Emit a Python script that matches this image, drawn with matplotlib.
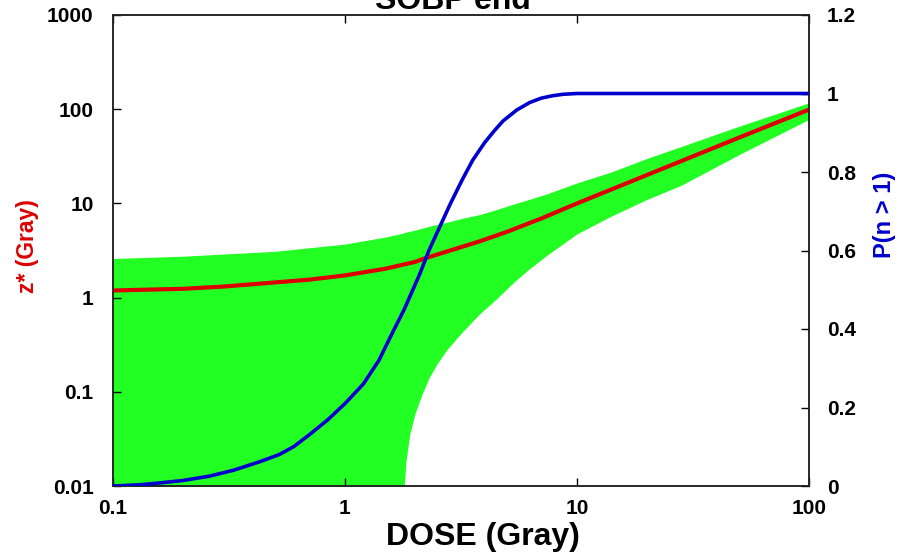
import numpy as np
import matplotlib.pyplot as plt
from matplotlib.ticker import FixedLocator, NullLocator, FixedFormatter

# z* band (spread of the specific energy)
band_dose = [0.1, 0.2, 0.5, 1.0, 1.5, 1.79, 1.8, 1.83, 1.9, 2.0, 2.15, 2.3, 2.5, 2.75, 3.2, 3.8,
             4.5, 5.3, 6.2, 7.4, 10, 14, 20, 28, 50, 100]
band_hi = [2.6, 2.75, 3.1, 3.7, 4.4, 4.85, 4.9, 4.95, 5.05, 5.2, 5.45, 5.7, 6.0, 6.3, 6.95, 7.6,
           8.6, 9.8, 11.0, 12.6, 16.5, 21.5, 30, 40, 66, 117]
band_lo = [0, 0, 0, 0, 0, 0, 0.01, 0.018, 0.035, 0.058, 0.095, 0.14, 0.2, 0.28, 0.43, 0.67,
           0.97, 1.43, 2.0, 2.8, 4.75, 7.3, 11, 15.5, 33, 78]

# mean z* (red)
z_dose = [0.1, 0.2, 0.3, 0.5, 0.7, 1.0, 1.5, 2.0, 2.2, 3.0, 3.8, 5.0, 7.0, 10, 14, 20, 50, 100]
z_mean = [1.19, 1.24, 1.31, 1.45, 1.55, 1.72, 2.03, 2.39, 2.6, 3.3, 3.95, 5.0, 6.9, 10, 14, 20, 50, 99]

# P(n > 1) (blue, right axis)
p_dose = [0.1, 0.13, 0.16, 0.2, 0.26, 0.33, 0.43, 0.52, 0.6, 0.7, 0.84, 1.0, 1.2, 1.4, 1.6,
          1.8, 2.1, 2.3, 2.56, 2.85, 3.2, 3.55, 4.0, 4.4, 4.8, 5.5, 6.25, 7.0, 7.8, 8.7, 10, 100]
p_val = [0.0, 0.003, 0.008, 0.014, 0.025, 0.04, 0.062, 0.08, 0.10, 0.13, 0.168, 0.21, 0.26, 0.32,
         0.39, 0.45, 0.54, 0.60, 0.66, 0.72, 0.78, 0.83, 0.875, 0.905, 0.93, 0.958, 0.977, 0.988,
         0.994, 0.998, 1.0, 1.0]

xticks = [0.1, 1, 10, 100]
xticklabels = ["0.1", "1", "10", "100"]
yticks = [0.01, 0.1, 1, 10, 100, 1000]
yticklabels = ["0.01", "0.1", "1", "10", "100", "1000"]
pticks = [0, 0.2, 0.4, 0.6, 0.8, 1.0, 1.2]
pticklabels = ["0", "0.2", "0.4", "0.6", "0.8", "1", "1.2"]

plt.rcParams['font.family'] = ['Liberation Sans', 'DejaVu Sans']
plt.rcParams['font.weight'] = 'bold'

fig = plt.figure(figsize=(9.04, 5.53), dpi=100)
ax = fig.add_axes([113 / 904, 1 - 486 / 553, (809 - 113) / 904, (486 - 15) / 553])

lo = np.clip(np.array(band_lo, dtype=float), 1e-3, None)
ax.fill_between(band_dose, lo, band_hi, color='#22ff22', linewidth=0, zorder=1)
ax.plot(z_dose, z_mean, color='#dd0000', linewidth=3.0, zorder=3)

ax.set_xscale('log')
ax.set_yscale('log')
ax.set_xlim(0.1, 100)
ax.set_ylim(0.01, 1000)
ax.xaxis.set_major_locator(FixedLocator(xticks))
ax.xaxis.set_major_formatter(FixedFormatter(xticklabels))
ax.xaxis.set_minor_locator(NullLocator())
ax.yaxis.set_major_locator(FixedLocator(yticks))
ax.yaxis.set_major_formatter(FixedFormatter(yticklabels))
ax.yaxis.set_minor_locator(NullLocator())
ax.tick_params(axis='x', direction='in', length=6, width=1, top=True, labelsize=15, pad=9)
ax.tick_params(axis='y', direction='in', length=6, width=1, right=False, labelsize=15, pad=14)

ax2 = ax.twinx()
ax2.plot(p_dose, p_val, color='#0000cc', linewidth=2.6, zorder=4)
ax2.set_ylim(0, 1.2)
ax2.yaxis.set_major_locator(FixedLocator(pticks))
ax2.yaxis.set_major_formatter(FixedFormatter(pticklabels))
ax2.tick_params(axis='y', direction='in', length=6, width=1, labelsize=15, pad=13)

for a in (ax, ax2):
    for s in a.spines.values():
        s.set_linewidth(1.1)
        s.set_color('#222222')

fig.text(453 / 904, 1 - 9 / 553, "SOBP end", ha='center', va='baseline',
         fontsize=23, fontweight='bold')
fig.text(483 / 904, 1 - 545 / 553, "DOSE (Gray)", ha='center', va='baseline',
         fontsize=23, fontweight='bold')
fig.text(28 / 904, 1 - 246 / 553, "z* (Gray)", ha='center', va='center', rotation=90,
         fontsize=16.5, fontweight='bold', color='#dd0000')
fig.text(885 / 904, 1 - 215 / 553, "P(n > 1)", ha='center', va='center', rotation=90,
         fontsize=17, fontweight='bold', color='#0000cc')

fig.savefig('out.png', dpi=100)
